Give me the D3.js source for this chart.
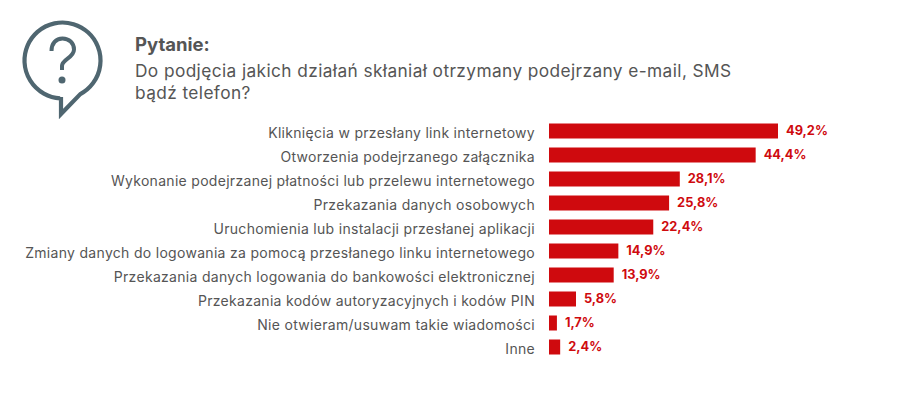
<!DOCTYPE html>
<html>
<head>
<meta charset="utf-8">
<script src="https://cdn.jsdelivr.net/npm/d3@7"></script>
<style>
  html, body { margin: 0; padding: 0; background: #fff; }
  text { font-family: "Inter", "Open Sans", sans-serif; }
</style>
</head>
<body>
<div id="vis"></div>
<script>
// chart data
const CATEGORIES = [
  "Kliknięcia w przesłany link internetowy",
  "Otworzenia podejrzanego załącznika",
  "Wykonanie podejrzanej płatności lub przelewu internetowego",
  "Przekazania danych osobowych",
  "Uruchomienia lub instalacji przesłanej aplikacji",
  "Zmiany danych do logowania za pomocą przesłanego linku internetowego",
  "Przekazania danych logowania do bankowości elektronicznej",
  "Przekazania kodów autoryzacyjnych i kodów PIN",
  "Nie otwieram/usuwam takie wiadomości",
  "Inne"
];
const VALUES = [49.2, 44.4, 28.1, 25.8, 22.4, 14.9, 13.9, 5.8, 1.7, 2.4];
const TITLE_LINES = [
  "Do podjęcia jakich działań skłaniał otrzymany podejrzany e-mail, SMS",
  "bądź telefon?"
];

// page set up
const FRAME_WIDTH = 901;
const FRAME_HEIGHT = 401;
const RED = "#cf0a0e";
const GREY = "#555";
const ICON = "#4f6670";

const FRAME = d3.select("#vis")
  .append("svg")
  .attr("width", FRAME_WIDTH)
  .attr("height", FRAME_HEIGHT)
  .style("display", "block");

// scales
const X = d3.scaleLinear().domain([0, 49.2]).range([549, 778]);
const Y = d3.scaleBand().domain(CATEGORIES).range([119, 359]).paddingInner(0.375).paddingOuter(0.1875);

// bars
FRAME.selectAll("rect.bar")
  .data(VALUES)
  .enter()
  .append("rect")
  .attr("class", "bar")
  .attr("x", X(0))
  .attr("y", (d, i) => Y(CATEGORIES[i]))
  .attr("width", d => X(d) - X(0))
  .attr("height", Y.bandwidth())
  .attr("fill", RED);

// category labels
FRAME.selectAll("text.cat")
  .data(CATEGORIES)
  .enter()
  .append("text")
  .attr("class", "cat")
  .attr("x", 535)
  .attr("y", d => Y(d) + Y.bandwidth() / 2 + 7)
  .attr("text-anchor", "end")
  .attr("font-size", 14)
  .attr("letter-spacing", 0.3)
  .attr("fill", GREY)
  .text(d => d);

// value labels
FRAME.selectAll("text.val")
  .data(VALUES)
  .enter()
  .append("text")
  .attr("class", "val")
  .attr("x", d => X(d) + 8)
  .attr("y", (d, i) => Y(CATEGORIES[i]) + Y.bandwidth() / 2 + 3.8)
  .attr("font-size", 12.8)
  .attr("font-weight", 700)
  .attr("fill", RED)
  .text(d => d.toFixed(1).replace(".", ",") + "%");

// heading
FRAME.append("text")
  .attr("x", 135)
  .attr("y", 51)
  .attr("font-size", 18.5)
  .attr("font-weight", 700)
  .attr("fill", "#555")
  .text("Pytanie:");

FRAME.selectAll("text.title")
  .data(TITLE_LINES)
  .enter()
  .append("text")
  .attr("class", "title")
  .attr("x", 135)
  .attr("y", (d, i) => 77 + i * 21.5)
  .attr("font-size", 17.3)
  .attr("letter-spacing", 0.4)
  .attr("fill", "#555")
  .text(d => d);

// speech bubble icon
const bubble = d3.path();
bubble.arc(62.5, 60.5, 38, Math.PI * 0.52, Math.PI * 0.345, false);
bubble.lineTo(61, 114);
bubble.lineTo(61, 97);
const ICON_G = FRAME.append("g").attr("fill", "none").attr("stroke", ICON);
ICON_G.append("path")
  .attr("d", bubble.toString())
  .attr("stroke-width", 4.2)
  .attr("stroke-linejoin", "miter");
ICON_G.append("path")
  .attr("d", "M51.5 51 C51.5 43.5 56 38.5 62.5 38.5 C69 38.5 74 43 74 49.5 C74 58 62 59 62 66 L62 70")
  .attr("stroke-width", 4);
ICON_G.append("circle")
  .attr("cx", 62)
  .attr("cy", 80)
  .attr("r", 3.5)
  .attr("fill", ICON)
  .attr("stroke", "none");
</script>
</body>
</html>
